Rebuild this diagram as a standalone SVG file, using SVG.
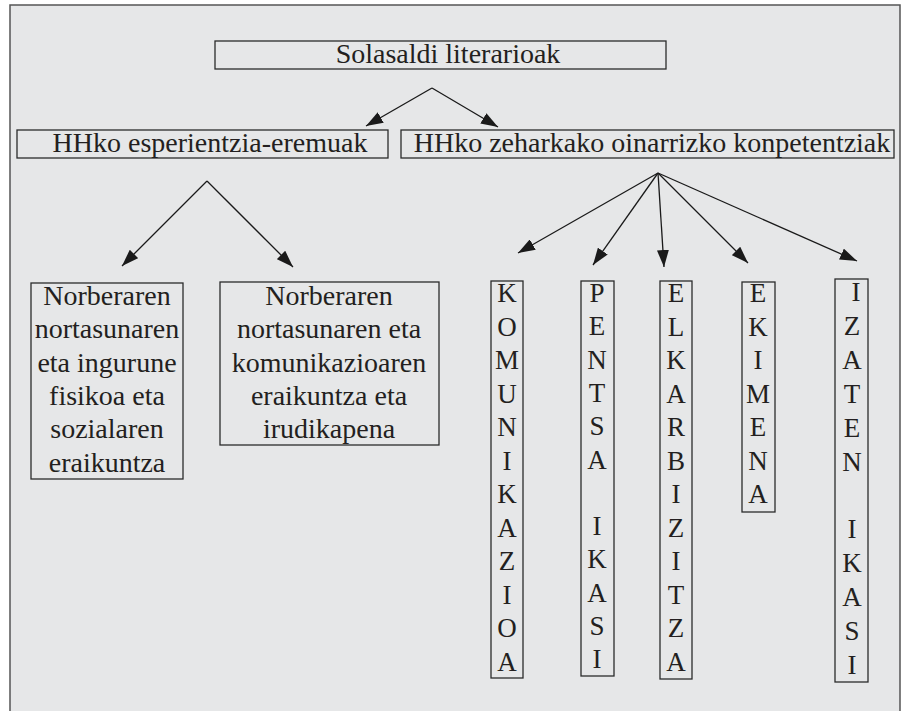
<svg xmlns="http://www.w3.org/2000/svg" width="903" height="711" viewBox="0 0 903 711">
<style>
.box{fill:none;stroke:#2b2b2b;stroke-width:1.3}
.t{font-family:'Liberation Serif','Times New Roman',Tinos,'DejaVu Serif',serif;font-size:28px;fill:#231f20;text-anchor:middle}
.v{font-family:'Liberation Serif','Times New Roman',Tinos,'DejaVu Serif',serif;font-size:27px;fill:#231f20;text-anchor:middle}
.c{stroke:#1a1a1a;stroke-width:1.3;fill:none;marker-end:url(#ah)}
</style>
<defs>
<marker id="ah" markerUnits="userSpaceOnUse" markerWidth="17" markerHeight="12" refX="17" refY="6" orient="auto" viewBox="0 0 17 12">
<path d="M0,0 L17,6 L0,12 z" fill="#1a1a1a"/>
</marker>
</defs>
<rect x="0" y="0" width="903" height="711" fill="#ffffff"/>
<path d="M10,712 L10,5 L900,5 L900,712" fill="#e6e7e8" stroke="#555" stroke-width="1.5"/>

<g id="connectors">
<line class="c" x1="432" y1="88" x2="366" y2="126"/>
<line class="c" x1="432" y1="88" x2="498" y2="127"/>
<line class="c" x1="207" y1="181" x2="122" y2="266"/>
<line class="c" x1="207" y1="181" x2="293" y2="267"/>
<line class="c" x1="658" y1="173" x2="518" y2="253"/>
<line class="c" x1="658" y1="173" x2="593" y2="265"/>
<line class="c" x1="658" y1="173" x2="664" y2="267"/>
<line class="c" x1="658" y1="173" x2="748" y2="263"/>
<line class="c" x1="658" y1="173" x2="857" y2="261"/>
</g>

<g id="root">
<rect class="box" x="215" y="41" width="451" height="28"/>
<text class="t" x="448" y="63" font-family="Liberation Serif">Solasaldi literarioak</text>
</g>
<g id="esperientzia">
<rect class="box" x="17" y="130" width="371" height="28"/>
<text class="t" x="210" y="152">HHko esperientzia-eremuak</text>
</g>
<g id="konpetentziak">
<rect class="box" x="401" y="130" width="493" height="28"/>
<text class="t" x="652" y="152">HHko zeharkako oinarrizko konpetentziak</text>
</g>

<g id="norberaren1">
<rect class="box" x="31" y="283" width="152" height="196"/>
<text class="t" x="107" y="305">Norberaren</text>
<text class="t" x="107" y="338.3">nortasunaren</text>
<text class="t" x="107" y="371.6">eta ingurune</text>
<text class="t" x="107" y="404.9">fisikoa eta</text>
<text class="t" x="107" y="438.2">sozialaren</text>
<text class="t" x="107" y="471.5">eraikuntza</text>
</g>
<g id="norberaren2">
<rect class="box" x="220" y="282" width="219" height="163"/>
<text class="t" x="329" y="305">Norberaren</text>
<text class="t" x="329" y="338.3">nortasunaren eta</text>
<text class="t" x="329" y="371.6">komunikazioaren</text>
<text class="t" x="329" y="404.9">eraikuntza eta</text>
<text class="t" x="329" y="438.2">irudikapena</text>
</g>

<g id="komunikazioa">
<rect class="box" x="491" y="281" width="32" height="397"/>
<text class="v" x="507" y="302">K</text>
<text class="v" x="507" y="335.5">O</text>
<text class="v" x="507" y="369">M</text>
<text class="v" x="507" y="402.5">U</text>
<text class="v" x="507" y="436">N</text>
<text class="v" x="507" y="469.5">I</text>
<text class="v" x="507" y="503">K</text>
<text class="v" x="507" y="536.5">A</text>
<text class="v" x="507" y="570">Z</text>
<text class="v" x="507" y="603.5">I</text>
<text class="v" x="507" y="637">O</text>
<text class="v" x="507" y="670.5">A</text>
</g>
<g id="pentsa">
<rect class="box" x="581" y="281" width="33" height="395"/>
<text class="v" x="597" y="302">P</text>
<text class="v" x="597" y="335.3">E</text>
<text class="v" x="597" y="368.6">N</text>
<text class="v" x="597" y="401.9">T</text>
<text class="v" x="597" y="435.2">S</text>
<text class="v" x="597" y="468.5">A</text>
<text class="v" x="597" y="535.1">I</text>
<text class="v" x="597" y="568.4">K</text>
<text class="v" x="597" y="601.7">A</text>
<text class="v" x="597" y="635">S</text>
<text class="v" x="597" y="668.3">I</text>
</g>
<g id="elkarbizitza">
<rect class="box" x="660" y="281" width="32" height="398"/>
<text class="v" x="676" y="302">E</text>
<text class="v" x="676" y="335.5">L</text>
<text class="v" x="676" y="369">K</text>
<text class="v" x="676" y="402.5">A</text>
<text class="v" x="676" y="436">R</text>
<text class="v" x="676" y="469.5">B</text>
<text class="v" x="676" y="503">I</text>
<text class="v" x="676" y="536.5">Z</text>
<text class="v" x="676" y="570">I</text>
<text class="v" x="676" y="603.5">T</text>
<text class="v" x="676" y="637">Z</text>
<text class="v" x="676" y="670.5">A</text>
</g>
<g id="ekimena">
<rect class="box" x="742" y="282" width="33" height="230"/>
<text class="v" x="758" y="302">E</text>
<text class="v" x="758" y="335.5">K</text>
<text class="v" x="758" y="369">I</text>
<text class="v" x="758" y="402.5">M</text>
<text class="v" x="758" y="436">E</text>
<text class="v" x="758" y="469.5">N</text>
<text class="v" x="758" y="503">A</text>
</g>
<g id="izaten">
<rect class="box" x="835" y="279" width="33" height="403"/>
<text class="v" x="856" y="301">I</text>
<text class="v" x="852" y="334.9">Z</text>
<text class="v" x="852" y="368.8">A</text>
<text class="v" x="852" y="402.7">T</text>
<text class="v" x="852" y="436.6">E</text>
<text class="v" x="852" y="470.5">N</text>
<text class="v" x="852" y="538.3">I</text>
<text class="v" x="852" y="572.2">K</text>
<text class="v" x="852" y="606.1">A</text>
<text class="v" x="852" y="640">S</text>
<text class="v" x="852" y="673.9">I</text>
</g>
</svg>
